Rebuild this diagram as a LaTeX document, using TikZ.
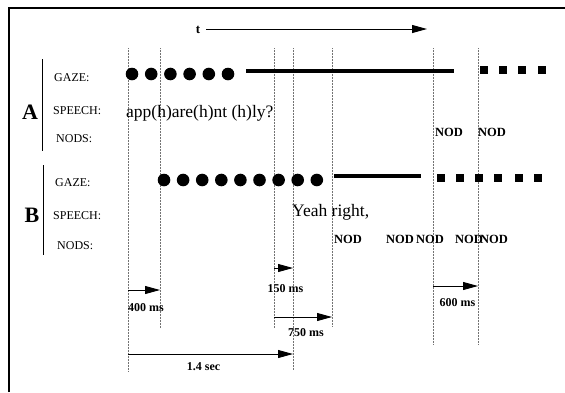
\documentclass[tikz,border=0pt]{standalone}
\usepackage{fontspec}
\setmainfont{Liberation Serif}
\usetikzlibrary{arrows.meta, positioning}

\begin{document}
\begin{tikzpicture}[
  x=1pt, y=-1pt,
  who/.style={inner sep=0pt, font=\fontsize{22}{24}\selectfont\bfseries},
  rowlabel/.style={anchor=west, inner sep=0pt, font=\fontsize{12}{14}\selectfont},
  talk/.style={anchor=west, inner sep=0pt, font=\fontsize{17.5}{20}\selectfont},
  nod/.style={anchor=west, inner sep=0pt, font=\fontsize{12.5}{14}\selectfont\bfseries},
  durlabel/.style={inner sep=0pt, font=\fontsize{12}{14}\selectfont\bfseries},
  dur/.style={-{Triangle[length=15pt, width=8pt]}, line width=0.9pt},
  timeline/.style={densely dotted, black!55, line width=0.5pt},
  gazeline/.style={line width=3.5pt}
]
\useasboundingbox (0,0) rectangle (565,392);
% frame
\draw[line width=1.4pt] (9,392) -- (9,8) -- (565,8);

% time axis
\node[font=\fontsize{13}{15}\selectfont\bfseries, inner sep=0pt] (t) at (198,30) {t};
\coordinate (tend) at (427,29);
\draw[dur, line width=1pt, shorten <=6pt] (t.east |- tend) -- (tend);

% vertical time marks
\foreach \n/\x/\yb in {1/128/372, 2/160/328, 3/274/328, 4/293/370,
                      5/332/327, 6/433/344, 7/478/344}{
  \coordinate (v\n) at (\x,48);
  \draw[timeline] (v\n) -- (\x,\yb);
}

% speaker A
\node[who] (A) at (30,112) {A};
\draw[line width=0.6pt] (42,59) -- (42,151);
\node[rowlabel] (gazeA) at (54,78) {GAZE:};
\node[rowlabel] (speechA) at (53,111) {SPEECH:};
\node[rowlabel] (nodsA) at (56,139) {NODS:};

\foreach \i in {0,...,5}
  \fill (132+19.2*\i,74) circle (6.3);
\draw[gazeline] (246,71) -- (454,71);
\foreach \x in {484,503,522,542}
  \fill (\x-4.25,70-4.25) rectangle ++(8.5,8.5);

\node[talk] (uttA) at (126,113) {app(h)are(h)nt (h)ly?};
\node[nod] (nodA1) at (435,132) {NOD};
\node[nod] (nodA2) at (478,132) {NOD};

% speaker B
\node[who] (B) at (32,215) {B};
\draw[line width=0.6pt] (43,165) -- (43,255);
\node[rowlabel] (gazeB) at (55,183) {GAZE:};
\node[rowlabel] (speechB) at (53,216) {SPEECH:};
\node[rowlabel] (nodsB) at (57,246) {NODS:};

\foreach \i in {0,...,8}
  \fill (164+19.1*\i,180) circle (6.3);
\draw[gazeline] (334,176) -- (421,176);
\foreach \x in {441,460,479,498,519,538}
  \fill (\x-4.25,178-4.25) rectangle ++(8.5,8.5);

\node[talk] (uttB) at (292,212) {Yeah right,};
\node[nod] (nodB1) at (334,239) {NOD};
\node[nod] (nodB2) at (386,239) {NOD};
\node[nod] (nodB3) at (416,239) {NOD};
\node[nod] (nodB4) at (455,239) {NOD};
\node[nod] (nodB5) at (480,239) {NOD};

% durations
\coordinate (r150) at (0,268);
\coordinate (r600) at (0,286);
\coordinate (r400) at (0,290);
\coordinate (r750) at (0,317);
\coordinate (r14) at (0,354);
\draw[dur] (v1 |- r400) -- node[durlabel, below=13pt, xshift=2pt] (l400) {400 ms} (v2 |- r400);
\draw[dur] (v3 |- r150) -- node[durlabel, below=16pt, xshift=2pt] (l150) {150 ms} (v4 |- r150);
\draw[dur] (v3 |- r750) -- node[durlabel, below=11pt, xshift=3pt] (l750) {750 ms} (v5 |- r750);
\draw[dur] (v1 |- r14) -- node[durlabel, below=8pt, xshift=-7pt] (l14) {1.4 sec} (v4 |- r14);
\draw[dur] (v6 |- r600) -- node[durlabel, below=12pt, xshift=2pt] (l600) {600 ms} (v7 |- r600);
\end{tikzpicture}
\end{document}
